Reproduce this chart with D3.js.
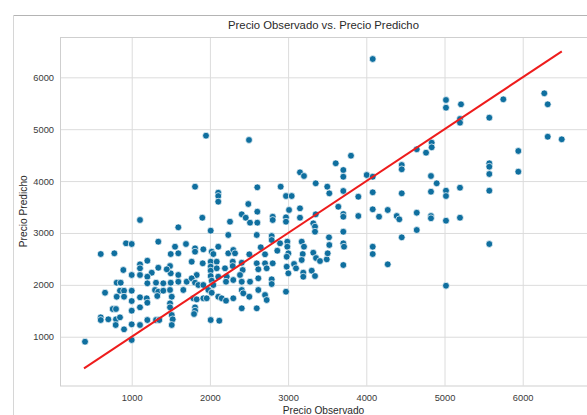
<!DOCTYPE html>
<html>
<head>
<meta charset="utf-8">
<script src="https://cdn.jsdelivr.net/npm/d3@7"></script>
<style>
  html, body { margin: 0; padding: 0; background: #fff; }
  svg { display: block; }
  text { font-family: "Liberation Sans", Arial, sans-serif; }
</style>
</head>
<body>
<svg id="chart" width="587" height="415"></svg>
<script>
// Observed vs. predicted price for each test sample
const observed = [
  1596, 927, 1000, 1340, 604, 778, 1554, 1694, 1499, 1596,
  1200, 1106, 1106, 893, 1340, 1256, 1490, 1499, 1000, 1106,
  1200, 1200, 1448, 1596, 808, 859, 1311, 1404, 1499, 1596,
  1703, 850, 902, 1000, 659, 1298, 1340, 1327, 1404, 1490,
  1512, 1660, 808, 902, 1106, 1000, 1192, 1200, 1490, 1490,
  757, 799, 1000, 1106, 604, 604, 701, 799, 850, 795,
  902, 1000, 1106, 1200, 1311, 1353, 1512, 1524, 1512, 403,
  1000, 2010, 2235, 2599, 2790, 2790, 2897, 2990, 2990, 1810,
  1810, 1916, 2023, 2044, 2107, 2235, 2299, 2321, 2504, 2650,
  2705, 2862, 3003, 2982, 1767, 1908, 2010, 2010, 2010, 2087,
  2087, 2193, 2292, 2292, 2407, 2419, 2599, 2619, 2705, 2726,
  2803, 2982, 3003, 3076, 3101, 1831, 1767, 2010, 2023, 2044,
  2107, 2215, 2206, 2299, 2385, 2407, 2513, 2619, 2790, 2790,
  1810, 1852, 1916, 1980, 2023, 2407, 2427, 2504, 2619, 2705,
  2726, 2973, 1788, 1831, 1916, 1959, 2107, 2151, 2206, 2299,
  1810, 1810, 1797, 2407, 2599, 2010, 2120, 1950, 2500, 3152,
  3203, 3353, 1810, 2107, 2107, 2107, 2606, 2905, 2973, 3046,
  2491, 3012, 3152, 1106, 1903, 2407, 2458, 2606, 2257, 2513,
  2606, 2803, 2803, 2973, 2973, 3152, 3353, 3804, 3609, 3706,
  3706, 4005, 4082, 4453, 4453, 4645, 4764, 3501, 3527, 3706,
  3898, 4082, 4453, 4827, 4827, 4900, 3642, 3706, 3706, 3898,
  4082, 4163, 4274, 4389, 4422, 4645, 4827, 4827, 3322, 3344,
  3344, 3523, 3527, 3706, 3706, 3715, 4082, 4082, 4453, 4645,
  3174, 3203, 3322, 3357, 3187, 3174, 3408, 3494, 3506, 3706,
  4274, 3302, 3344, 3194, 3194, 4836, 4836, 5019, 5019, 5211,
  5198, 5198, 5573, 5752, 6276, 6320, 6320, 6499, 5944, 5944,
  5573, 5573, 5573, 5019, 5019, 5198, 5573, 5019, 5198, 5573,
  5019, 4082
];
const predicted = [
  3109, 2801, 2787, 2832, 2594, 2608, 2735, 2787, 2594, 2608,
  2465, 2396, 2319, 2286, 2330, 2234, 2363, 2222, 2190, 2190,
  2157, 2030, 2300, 2190, 2041, 2041, 2041, 2030, 2041, 2060,
  2060, 1887, 1887, 1887, 1848, 1901, 1868, 1785, 1887, 1901,
  1771, 1901, 1771, 1771, 1760, 1688, 1741, 1656, 1644, 1567,
  1534, 1534, 1502, 1567, 1374, 1322, 1336, 1336, 1374, 1226,
  1143, 1239, 1226, 1322, 1322, 1322, 1419, 1336, 1226, 904,
  937, 3044, 2961, 2961, 2941, 2864, 2801, 2832, 2735, 2704,
  2639, 2685, 2639, 2594, 2735, 2608, 2672, 2608, 2589, 2724,
  2589, 2658, 2608, 2542, 2446, 2415, 2446, 2350, 2273, 2446,
  2319, 2319, 2446, 2363, 2427, 2286, 2415, 2300, 2415, 2319,
  2415, 2350, 2222, 2402, 2319, 2190, 2126, 2170, 2080, 1997,
  2157, 2157, 2060, 2093, 2190, 2060, 2060, 2126, 2107, 2016,
  2041, 1997, 1997, 1901, 1848, 1901, 1837, 1771, 1901, 1804,
  1708, 1868, 1741, 1721, 1741, 1741, 1771, 1741, 1694, 1741,
  1567, 1502, 1438, 1548, 1548, 1322, 1309, 4875, 4792, 4169,
  4098, 3957, 3892, 3776, 3712, 3603, 3880, 3892, 3712, 3712,
  3558, 3443, 3475, 3250, 3294, 3360, 3294, 3410, 3217, 3198,
  3198, 3313, 3250, 3302, 3217, 3294, 3360, 4489, 4343, 4213,
  4084, 4117, 4084, 4310, 4227, 4613, 4547, 3892, 3764, 3809,
  3699, 3784, 3764, 4098, 3795, 3957, 3506, 3365, 3313, 3327,
  3456, 3313, 3443, 3327, 3263, 3390, 3327, 3283, 3186, 3121,
  3024, 2916, 2768, 3024, 2801, 2735, 2735, 2594, 2916, 3057,
  2832, 2735, 2619, 2517, 2594, 2479, 2459, 2492, 2608, 2382,
  2396, 2273, 2170, 2234, 2157, 4740, 4651, 5563, 5414, 5480,
  5197, 5125, 5222, 5576, 5692, 5480, 4855, 4805, 4580, 4181,
  4343, 4277, 4136, 3815, 3712, 3872, 3815, 3236, 3294, 2787,
  1983, 6353
];

// Reference line where predicted equals observed
const identityLine = [390, 6500];

const xTicks = [1000, 2000, 3000, 4000, 5000, 6000];
const yTicks = [1000, 2000, 3000, 4000, 5000, 6000];

const titleText = "Precio Observado vs. Precio Predicho";
const xLabel = "Precio Observado";
const yLabel = "Precio Predicho";

const svg = d3.select("#chart");
const W = 587, H = 415;
const plot = { left: 60, top: 37, right: 588, bottom: 385.5 };

svg.append("rect").attr("width", W).attr("height", H).attr("fill", "#fff");

// Output-cell frame
svg.append("line").attr("x1", 13.5).attr("x2", W).attr("y1", 15.5).attr("y2", 15.5)
  .attr("stroke", "#b4b4b4").attr("stroke-width", 1);
svg.append("line").attr("x1", 13.5).attr("x2", 13.5).attr("y1", 15.5).attr("y2", H)
  .attr("stroke", "#d6d6d6").attr("stroke-width", 1);

const x = d3.scaleLinear().domain([83, 6835]).range([plot.left, plot.right]);
const y = d3.scaleLinear().domain([60, 6777]).range([plot.bottom, plot.top]);

const g = svg.append("g");

// Grid lines
const gridColor = "#dcdcdc";
g.append("g").attr("transform", `translate(0,${plot.bottom})`)
  .call(d3.axisBottom(x).tickValues(xTicks).tickSize(-(plot.bottom - plot.top)).tickFormat(""))
  .call(s => s.select(".domain").remove())
  .call(s => s.selectAll("line").attr("stroke", gridColor).attr("stroke-width", 1));
g.append("g").attr("transform", `translate(${plot.left},0)`)
  .call(d3.axisLeft(y).tickValues(yTicks).tickSize(-(plot.right - plot.left)).tickFormat(""))
  .call(s => s.select(".domain").remove())
  .call(s => s.selectAll("line").attr("stroke", gridColor).attr("stroke-width", 1));

// Frame of the axes
g.append("rect")
  .attr("x", plot.left + 0.5).attr("y", plot.top + 0.5)
  .attr("width", plot.right - plot.left).attr("height", plot.bottom - plot.top)
  .attr("fill", "none").attr("stroke", "#cfcfcf").attr("stroke-width", 1);

// Tick labels
const tickColor = "#3a3a3a";
g.append("g").attr("transform", `translate(0,${plot.bottom})`)
  .call(d3.axisBottom(x).tickValues(xTicks).tickSize(0).tickPadding(9).tickFormat(d3.format("d")))
  .call(s => s.select(".domain").remove())
  .call(s => s.selectAll("text").attr("fill", tickColor)
    .style("font-family", '"Liberation Sans", Arial, sans-serif').style("font-size", "9.3px"));
g.append("g").attr("transform", `translate(${plot.left},0)`)
  .call(d3.axisLeft(y).tickValues(yTicks).tickSize(0).tickPadding(6).tickFormat(d3.format("d")))
  .call(s => s.select(".domain").remove())
  .call(s => s.selectAll("text").attr("fill", tickColor)
    .style("font-family", '"Liberation Sans", Arial, sans-serif').style("font-size", "9.3px"));

// Scatter points
const pts = observed.map((o, i) => ({ o, p: predicted[i] }));
g.append("g").selectAll("circle").data(pts).join("circle")
  .attr("cx", d => x(d.o)).attr("cy", d => y(d.p)).attr("r", 3.4)
  .attr("fill", "#0f6f9f").attr("stroke", "#fff").attr("stroke-width", 0.7);

// Identity line
g.append("line")
  .attr("x1", x(identityLine[0])).attr("y1", y(identityLine[0]))
  .attr("x2", x(identityLine[1])).attr("y2", y(identityLine[1]))
  .attr("stroke", "#ee1c1c").attr("stroke-width", 2);

// Title and axis labels
const cx = (plot.left + plot.right) / 2 - 0.5;
svg.append("text").attr("x", cx).attr("y", 29).attr("text-anchor", "middle")
  .attr("fill", "#2a2a2a").style("font-size", "11.3px").text(titleText);
svg.append("text").attr("x", cx).attr("y", 413.5).attr("text-anchor", "middle")
  .attr("fill", "#2a2a2a").style("font-size", "10.2px").text(xLabel);
svg.append("text").attr("transform", `translate(26.5,${(plot.top + plot.bottom) / 2}) rotate(-90)`)
  .attr("text-anchor", "middle").attr("fill", "#2a2a2a").style("font-size", "10.2px").text(yLabel);
</script>
</body>
</html>
